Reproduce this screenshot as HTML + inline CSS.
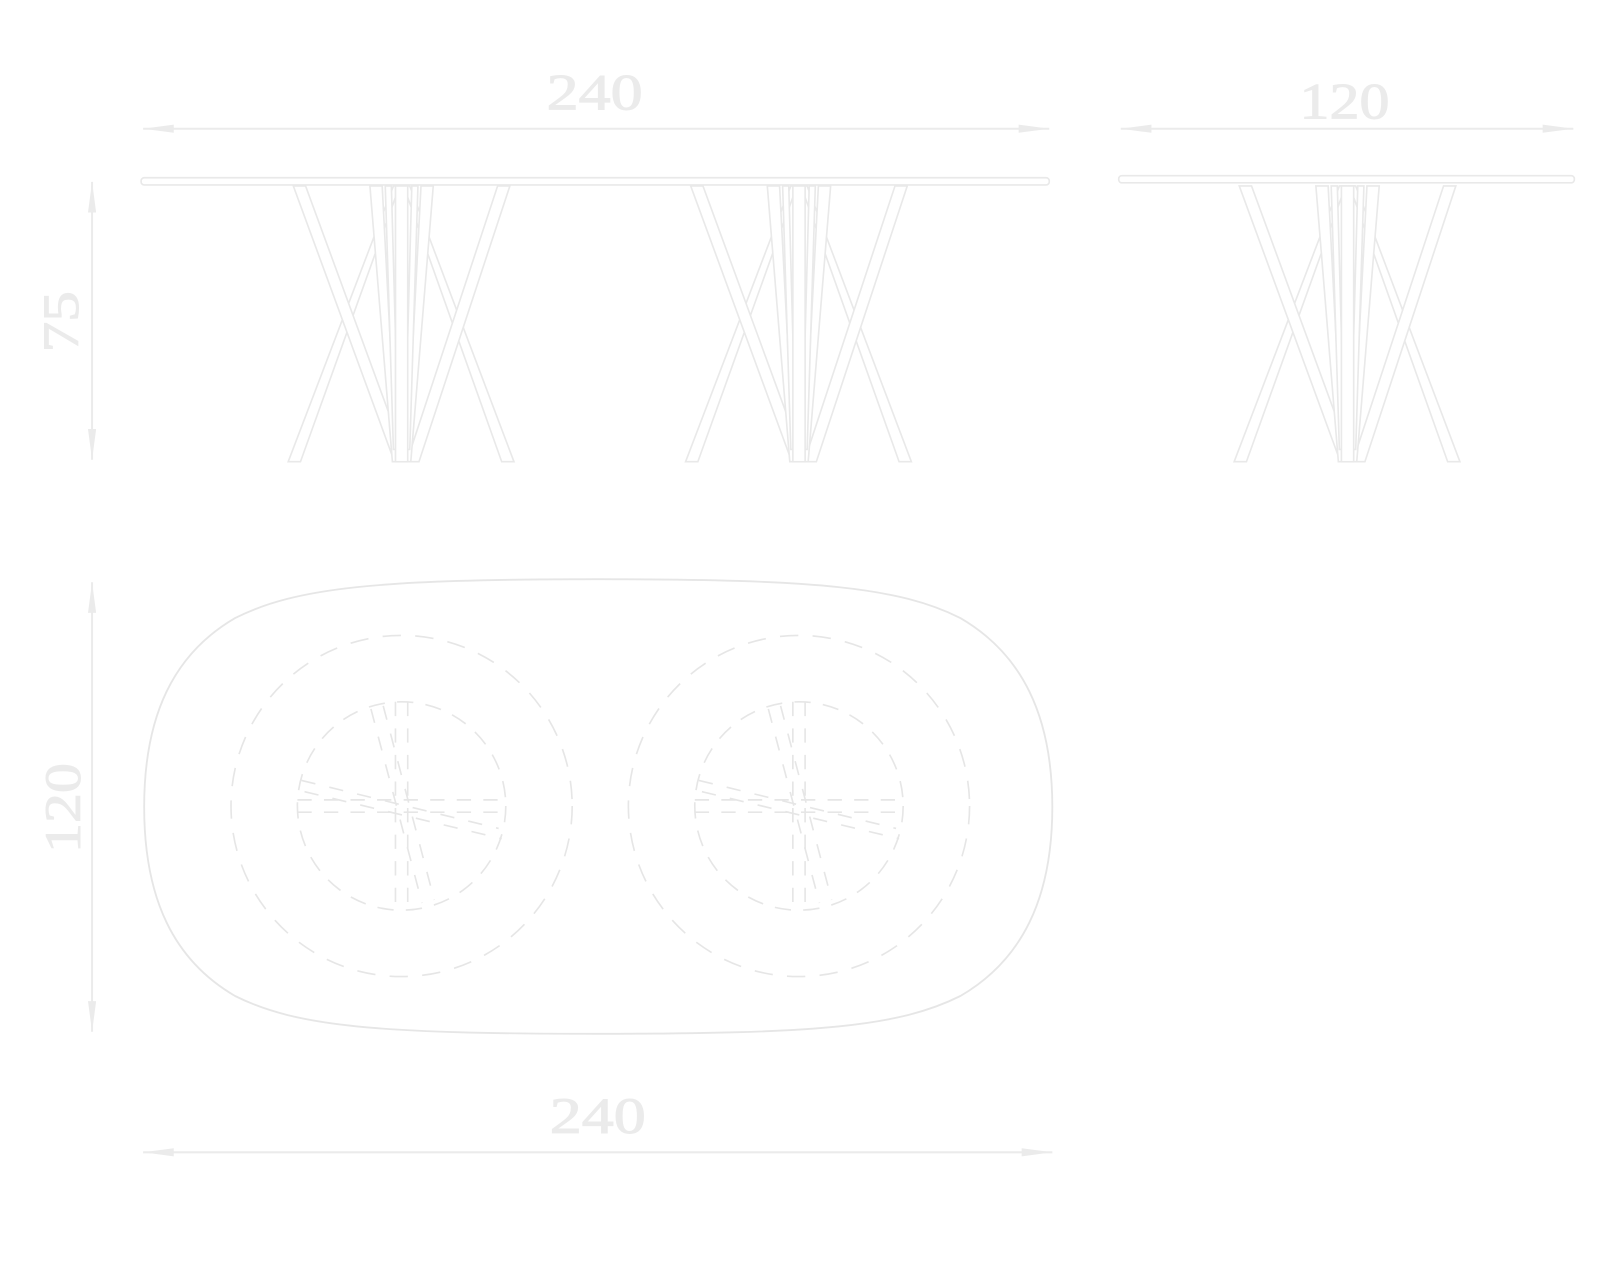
<!DOCTYPE html>
<html><head><meta charset="utf-8"><style>
html,body{margin:0;padding:0;background:#fff;}
svg{display:block}
text{font-family:"Liberation Serif",serif;fill:#ebebeb;font-size:50px;stroke:#ebebeb;stroke-width:1;}
</style></head><body>
<svg width="1600" height="1280" viewBox="0 0 1566 1253" xmlns="http://www.w3.org/2000/svg">
<defs>
<marker id="a" viewBox="0 0 30 8" refX="30" refY="4" markerWidth="30" markerHeight="8" markerUnits="userSpaceOnUse" orient="auto-start-reverse"><path d="M0 0 L30 4 L0 8 Z" fill="#ebebeb"/></marker>
<g id="legs" fill="#fff" stroke="#e9e9e9" stroke-width="1.6">
  <polygon points="-8,182 -2,182 -99,452 -111,452"/>
  <polygon points="2,182 8,182 110,452 98,452"/>
  <polygon points="-106,182 -94,182 5,452 -7,452"/>
  <polygon points="94,182 106,182 17,452 5,452"/>
  <polygon points="-31,182 -19,182 -5,452 -9,452"/>
  <polygon points="19,182 31,182 9,452 5,452"/>
  <polygon points="-16,182 -10,182 -3,440 -8,440"/>
  <polygon points="10,182 16,182 8,440 3,440"/>
  <rect x="-6" y="182" width="12" height="270"/>
</g>
<g id="plan" fill="none" stroke="#e6e6e6" stroke-width="1.6">
  <circle r="167" stroke-dasharray="18 14"/>
  <circle r="102" stroke-dasharray="16 12"/>
  <path d="M-6,-102 V102 M6,-102 V102 M-102,-6 H102 M-102,6 H102" stroke-dasharray="14 12"/>
  <path d="M-30,-95 L20,95 M-18,-98 L32,92 M-98,-25 L95,22 M-95,-14 L98,32" stroke-dasharray="14 14"/>
</g>
</defs>

<line x1="140" y1="126" x2="1027" y2="126" stroke="#ebebeb" stroke-width="2" marker-start="url(#a)" marker-end="url(#a)"/>
<text x="535" y="107" textLength="94" lengthAdjust="spacingAndGlyphs">240</text>
<line x1="1097" y1="126" x2="1540" y2="126" stroke="#ebebeb" stroke-width="2" marker-start="url(#a)" marker-end="url(#a)"/>
<text x="1272" y="116" textLength="88" lengthAdjust="spacingAndGlyphs">120</text>
<line x1="90" y1="178" x2="90" y2="450" stroke="#ebebeb" stroke-width="2" marker-start="url(#a)" marker-end="url(#a)"/>
<text transform="translate(76,345) rotate(-90)" textLength="60" lengthAdjust="spacingAndGlyphs">75</text>

<use href="#legs" x="393"/>
<use href="#legs" x="782"/>
<rect x="138" y="174" width="889" height="7" rx="3" fill="#fff" stroke="#e9e9e9" stroke-width="1.6"/>

<use href="#legs" x="1319"/>
<rect x="1095" y="172" width="446" height="7" rx="3" fill="#fff" stroke="#e9e9e9" stroke-width="1.6"/>

<line x1="90" y1="570" x2="90" y2="1010" stroke="#ebebeb" stroke-width="2" marker-start="url(#a)" marker-end="url(#a)"/>
<text transform="translate(78,835) rotate(-90)" textLength="88" lengthAdjust="spacingAndGlyphs">120</text>
<path d="M585,567 C800,567 880,575 940,605 C1000,640 1030,700 1030,790 C1030,880 1000,940 940,975 C880,1005 800,1012 585,1012 C370,1012 290,1005 230,975 C170,940 141,880 141,790 C141,700 170,640 230,605 C290,575 370,567 585,567 Z" fill="none" stroke="#e6e6e6" stroke-width="1.8"/>
<use href="#plan" x="393" y="789"/>
<use href="#plan" x="782" y="789"/>
<line x1="140" y1="1128" x2="1030" y2="1128" stroke="#ebebeb" stroke-width="2" marker-start="url(#a)" marker-end="url(#a)"/>
<text x="538" y="1109" textLength="94" lengthAdjust="spacingAndGlyphs">240</text>
</svg>
</body></html>
